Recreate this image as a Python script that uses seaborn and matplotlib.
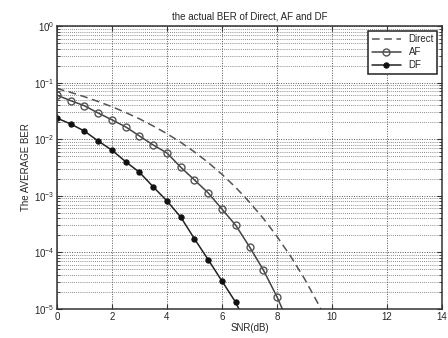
import numpy as np
import pandas as pd
import matplotlib
matplotlib.use("Agg")
import matplotlib.pyplot as plt
import matplotlib.ticker as ticker
import seaborn as sns

snr_direct = [0, 0.5, 1, 1.5, 2, 2.5, 3, 3.5, 4, 4.5, 5, 5.5, 6, 6.5, 7, 7.5, 8, 8.5, 9, 9.5, 10]
ber_direct = [7.86e-2, 6.72e-2, 5.63e-2, 4.63e-2, 3.75e-2, 2.96e-2, 2.29e-2, 1.71e-2, 1.25e-2,
              8.8e-3, 5.95e-3, 3.86e-3, 2.39e-3, 1.40e-3, 7.7e-4, 3.98e-4, 1.9e-4, 8.4e-5,
              3.4e-5, 1.22e-5, 3.9e-6]

snr_af = [0, 0.5, 1, 1.5, 2, 2.5, 3, 3.5, 4, 4.5, 5, 5.5, 6, 6.5, 7, 7.5, 8, 8.5]
ber_af = [6.0e-2, 4.8e-2, 3.9e-2, 2.9e-2, 2.2e-2, 1.65e-2, 1.14e-2, 7.9e-3, 5.7e-3,
          3.2e-3, 1.9e-3, 1.12e-3, 5.8e-4, 3.0e-4, 1.25e-4, 4.9e-5, 1.63e-5, 4.5e-6]

snr_df = [0, 0.5, 1, 1.5, 2, 2.5, 3, 3.5, 4, 4.5, 5, 5.5, 6, 6.5, 7]
ber_df = [2.36e-2, 1.86e-2, 1.39e-2, 9.3e-3, 6.4e-3, 4.0e-3, 2.6e-3, 1.44e-3, 8.1e-4,
          4.2e-4, 1.73e-4, 7.4e-5, 3.1e-5, 1.3e-5, 4.0e-6]

df_direct = pd.DataFrame({"snr": snr_direct, "ber": ber_direct})
df_af = pd.DataFrame({"snr": snr_af, "ber": ber_af})
df_df = pd.DataFrame({"snr": snr_df, "ber": ber_df})

sns.set_style("ticks")
plt.rcParams["font.family"] = ["Liberation Sans", "DejaVu Sans"]
plt.rcParams["font.size"] = 7

fig = plt.figure(figsize=(4.48, 3.38), dpi=100)
ax = fig.add_axes([0.127, 0.086, 0.86, 0.837])

sns.lineplot(data=df_direct, x="snr", y="ber", ax=ax, color="#555555", linestyle=(0, (5, 3)),
             linewidth=1.1, label="Direct")
sns.lineplot(data=df_af, x="snr", y="ber", ax=ax, color="#444444", linewidth=1.1,
             marker="o", markersize=5, markerfacecolor="none", markeredgecolor="#555555",
             markeredgewidth=1.0, label="AF")
sns.lineplot(data=df_df, x="snr", y="ber", ax=ax, color="#222222", linewidth=1.1,
             marker="o", markersize=3.8, markerfacecolor="#111111", markeredgecolor="#111111",
             label="DF")

ax.set_yscale("log")
ax.set_xlim(0, 14)
ax.set_ylim(1e-5, 1)
ax.set_xticks(range(0, 15, 2))
ax.yaxis.set_major_locator(ticker.LogLocator(base=10, numticks=10))
ax.yaxis.set_minor_locator(ticker.LogLocator(base=10, subs=np.arange(2, 10), numticks=20))
ax.yaxis.set_minor_formatter(ticker.NullFormatter())

ax.grid(True, which="major", axis="both", color="#555555", linestyle=(0, (1, 1.5)), linewidth=0.7)
ax.grid(True, which="minor", axis="y", color="#666666", linestyle=(0, (1, 1.5)), linewidth=0.6)

for s in ax.spines.values():
    s.set_color("#333333")
    s.set_linewidth(1.1)
ax.tick_params(which="both", direction="in", top=True, right=True, labelsize=7,
               color="#333333", pad=2)

ax.set_title("the actual BER of Direct, AF and DF", fontsize=7, pad=5)
ax.set_xlabel("SNR(dB)", fontsize=7, labelpad=1)
ax.set_ylabel("The AVERAGE BER", fontsize=7, labelpad=2)

leg = ax.legend(loc="upper right", fontsize=7, frameon=True, fancybox=False,
                framealpha=1, edgecolor="#222222", handlelength=3.0, borderpad=0.35,
                labelspacing=0.3)
leg.get_frame().set_linewidth(1.1)

fig.savefig("out.png", dpi=100)
